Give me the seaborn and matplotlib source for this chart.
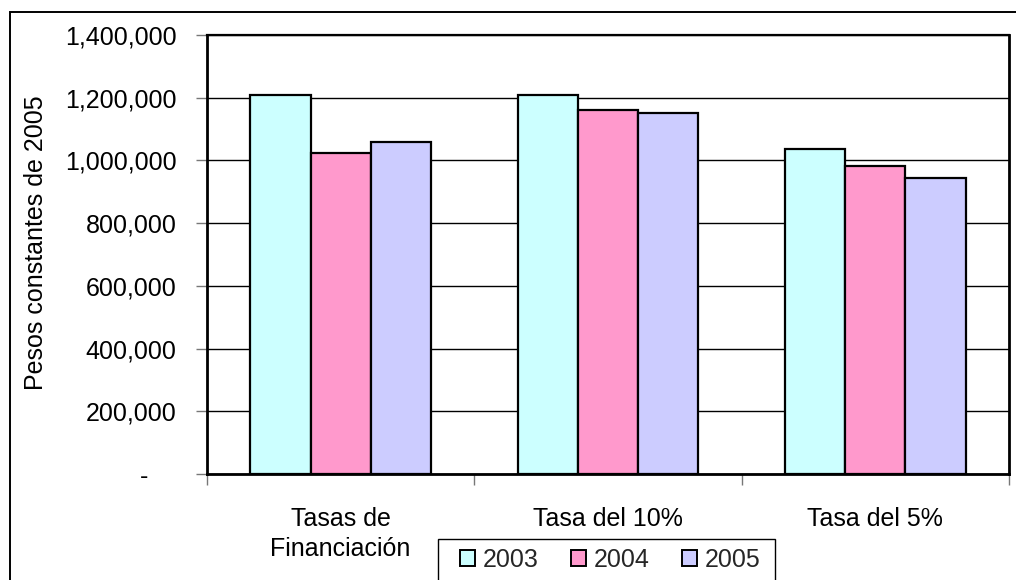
import matplotlib
matplotlib.use("Agg")
import matplotlib.pyplot as plt
import matplotlib.patches as mpatches
from matplotlib.ticker import FuncFormatter, FixedLocator
import seaborn as sns
import pandas as pd

# Valores en pesos constantes de 2005
escenarios = ["Tasas de\nFinanciación", "Tasa del 10%", "Tasa del 5%"]
anios = ["2003", "2004", "2005"]
valores_2003 = [1210000, 1210000, 1037000]
valores_2004 = [1024000, 1162000, 983000]
valores_2005 = [1058000, 1151000, 944000]
colores = ["#CCFFFF", "#FF99CC", "#CCCCFF"]
yticks = [0, 200000, 400000, 600000, 800000, 1000000, 1200000, 1400000]

df = pd.DataFrame({
    "escenario": escenarios * 3,
    "anio": [anios[0]] * 3 + [anios[1]] * 3 + [anios[2]] * 3,
    "valor": valores_2003 + valores_2004 + valores_2005,
})

sns.set_theme(style="white")
plt.rcParams["font.family"] = ["Liberation Sans", "DejaVu Sans"]
FS = 18
W, H = 1016, 580

fig = plt.figure(figsize=(10.16, 5.8), dpi=100)
ax = fig.add_axes([207 / W, 1 - 474 / H, (1009 - 207) / W, (474 - 35) / H])

sns.barplot(data=df, x="escenario", y="valor", hue="anio", order=escenarios,
            hue_order=anios, palette=colores, width=0.675, gap=0,
            edgecolor="black", linewidth=1.6, saturation=1, ax=ax, legend=False)

ax.set_xlim(-0.5, 2.5)
ax.set_ylim(0, 1400000)
ax.yaxis.set_major_locator(FixedLocator(yticks))
ax.yaxis.set_major_formatter(FuncFormatter(
    lambda v, p: "-    " if v == 0 else f"{int(v):,}"))
ax.grid(axis="y", color="black", linewidth=1.0)
ax.set_axisbelow(True)

ax.set_xlabel("")
ax.set_ylabel("Pesos constantes de 2005", fontsize=FS, color="black")
ax.yaxis.set_label_coords((48 - 207) / 802, (474 - 243) / 439)
ax.tick_params(axis="y", direction="out", length=8, width=1.0, color="#777777",
               pad=14, labelsize=FS, labelcolor="black", left=True)
ax.tick_params(axis="x", which="major", length=0, pad=24, labelsize=FS,
               labelcolor="black")
ax.set_xticks([-0.5, 0.5, 1.5, 2.5], minor=True)
ax.tick_params(axis="x", which="minor", direction="out", length=8, width=1.0,
               color="#777777", bottom=True)
for lbl in ax.get_xticklabels():
    lbl.set_linespacing(1.3)

for side in ["left", "bottom", "top", "right"]:
    ax.spines[side].set_visible(True)
    ax.spines[side].set_color("black")
ax.spines["left"].set_linewidth(2.0)
ax.spines["bottom"].set_linewidth(2.0)
ax.spines["top"].set_linewidth(1.6)
ax.spines["right"].set_linewidth(2.0)

# Legend box, open at the bottom edge of the figure
fig.patches.append(mpatches.Rectangle((438 / W, -0.2), (775 - 438) / W, 0.2 + 1 - 539 / H,
                                      transform=fig.transFigure, facecolor="white",
                                      edgecolor="black", linewidth=1.0, zorder=5))
handles = [mpatches.Patch(facecolor=c, edgecolor="black", linewidth=1.4) for c in colores]
leg = fig.legend(handles, anios, loc="upper left",
                 bbox_to_anchor=(460 / W, 1 - 548 / H), ncol=3,
                 fontsize=FS, frameon=False, borderaxespad=0, borderpad=0,
                 handlelength=0.6, handleheight=0.6, handletextpad=0.3,
                 columnspacing=1.3)
leg.set_zorder(6)

# Outer chart border
fig.patches.append(mpatches.Rectangle((10 / W, -0.2), 2, 1 - 12 / H + 0.2,
                                      transform=fig.transFigure, fill=False,
                                      edgecolor="black", linewidth=1.4))

fig.savefig("out.png", dpi=100, facecolor="white")
